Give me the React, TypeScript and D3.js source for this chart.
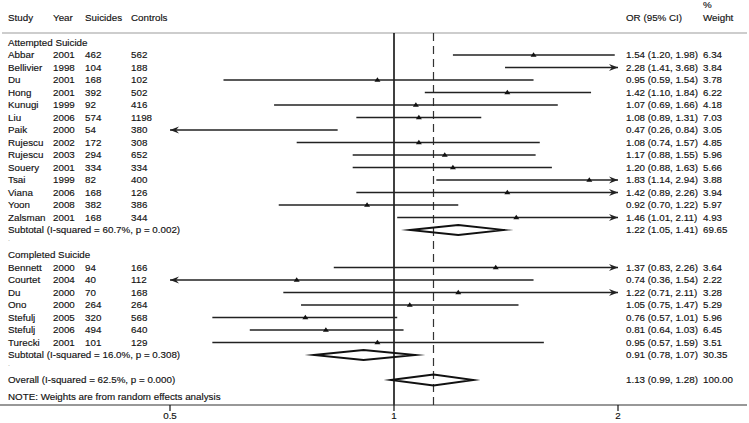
import React from "react";
import * as d3 from "d3";

// attempted suicide studies
const attStudy = ["Abbar", "Bellivier", "Du", "Hong", "Kunugi", "Liu", "Paik", "Rujescu", "Rujescu", "Souery", "Tsai", "Viana", "Yoon", "Zalsman"];
const attYear = [2001, 1998, 2001, 2001, 1999, 2006, 2000, 2002, 2003, 2001, 1999, 2006, 2008, 2001];
const attCases = [462, 104, 168, 392, 92, 574, 54, 172, 294, 334, 82, 168, 382, 168];
const attCtrl = [562, 188, 102, 502, 416, 1198, 380, 308, 652, 334, 400, 126, 386, 344];
const attOR = [1.54, 2.28, 0.95, 1.42, 1.07, 1.08, 0.47, 1.08, 1.17, 1.2, 1.83, 1.42, 0.92, 1.46];
const attLo = [1.2, 1.41, 0.59, 1.1, 0.69, 0.89, 0.26, 0.74, 0.88, 0.88, 1.14, 0.89, 0.7, 1.01];
const attHi = [1.98, 3.68, 1.54, 1.84, 1.66, 1.31, 0.84, 1.57, 1.55, 1.63, 2.94, 2.26, 1.22, 2.11];
const attW = ["6.34", "3.84", "3.78", "6.22", "4.18", "7.03", "3.05", "4.85", "5.96", "5.66", "3.88", "3.94", "5.97", "4.93"];

// completed suicide studies
const comStudy = ["Bennett", "Courtet", "Du", "Ono", "Stefulj", "Stefulj", "Turecki"];
const comYear = [2000, 2004, 2000, 2000, 2005, 2006, 2001];
const comCases = [94, 40, 70, 264, 320, 494, 101];
const comCtrl = [166, 112, 168, 264, 568, 640, 129];
const comOR = [1.37, 0.74, 1.22, 1.05, 0.76, 0.81, 0.95];
const comLo = [0.83, 0.36, 0.71, 0.75, 0.57, 0.64, 0.57];
const comHi = [2.26, 1.54, 2.11, 1.47, 1.01, 1.03, 1.59];
const comW = ["3.64", "2.22", "3.28", "5.29", "5.96", "6.45", "3.51"];

// pooled estimates
const poolLabel = ["Subtotal  (I-squared = 60.7%, p = 0.002)", "Subtotal  (I-squared = 16.0%, p = 0.308)", "Overall  (I-squared = 62.5%, p = 0.000)"];
const poolOR = [1.22, 0.91, 1.13];
const poolLo = [1.05, 0.78, 0.99];
const poolHi = [1.41, 1.07, 1.28];
const poolW = ["69.65", "30.35", "100.00"];

const ticks = [0.5, 1, 2];

const fmt = d3.format(".2f");
const ciText = (o: number, l: number, h: number) => `${fmt(o)} (${fmt(l)}, ${fmt(h)})`;

type Row =
  | { kind: "head"; i: number; text: string }
  | { kind: "study"; i: number; name: string; year: number; cases: number; ctrl: number; or: number; lo: number; hi: number; w: string }
  | { kind: "pool"; i: number; text: string; or: number; lo: number; hi: number; w: string; h: number }
  | { kind: "dot"; i: number };

const rows: Row[] = [];
rows.push({ kind: "head", i: -1, text: "Attempted Suicide" });
attStudy.forEach((s, k) =>
  rows.push({ kind: "study", i: k, name: s, year: attYear[k], cases: attCases[k], ctrl: attCtrl[k], or: attOR[k], lo: attLo[k], hi: attHi[k], w: attW[k] })
);
rows.push({ kind: "pool", i: 14, text: poolLabel[0], or: poolOR[0], lo: poolLo[0], hi: poolHi[0], w: poolW[0], h: 5 });
rows.push({ kind: "dot", i: 15 });
rows.push({ kind: "head", i: 16, text: "Completed Suicide" });
comStudy.forEach((s, k) =>
  rows.push({ kind: "study", i: 17 + k, name: s, year: comYear[k], cases: comCases[k], ctrl: comCtrl[k], or: comOR[k], lo: comLo[k], hi: comHi[k], w: comW[k] })
);
rows.push({ kind: "pool", i: 24, text: poolLabel[1], or: poolOR[1], lo: poolLo[1], hi: poolHi[1], w: poolW[1], h: 5 });
rows.push({ kind: "dot", i: 25 });
rows.push({ kind: "pool", i: 26, text: poolLabel[2], or: poolOR[2], lo: poolLo[2], hi: poolHi[2], w: poolW[2], h: 5.5 });

export default function App() {
  const width = 749;
  const height = 423;
  const x = d3.scaleLog().domain([0.5, 2]).range([170, 618]);
  const y = (i: number) => 55 + 12.5 * i;
  const topY = 33;
  const axisY = 405;
  const ink = "#111";
  const font = "'Liberation Sans', Arial, sans-serif";
  const fs = 9.8;

  const arrow = (tx: number, cy: number, dir: number) =>
    `M${tx},${cy} L${tx - dir * 9},${cy - 3.6} L${tx - dir * 6},${cy} L${tx - dir * 9},${cy + 3.6} Z`;

  return (
    <svg width={width} height={height} style={{ position: "absolute", left: 0, top: 0, background: "#fff" }} fontFamily={font} fontSize={fs}>
      <rect width={width} height={height} fill="#fff" />
      <g fill={ink} stroke={ink} strokeWidth={0.15}>
        {/* header */}
        <text x={8} y={20.5}>Study</text>
        <text x={53} y={20.5}>Year</text>
        <text x={85} y={20.5}>Suicides</text>
        <text x={131} y={20.5}>Controls</text>
        <text x={626} y={20.5}>OR (95% CI)</text>
        <text x={703} y={8}>%</text>
        <text x={703} y={20.5}>Weight</text>
      </g>
      <line x1={2} x2={747} y1={topY} y2={topY} stroke="#bdbdbd" strokeWidth={1.6} />

      {/* reference lines */}
      <line x1={x(1)} x2={x(1)} y1={topY} y2={axisY} stroke="#000" strokeWidth={1.5} />
      <line x1={x(poolOR[2])} x2={x(poolOR[2])} y1={topY} y2={axisY} stroke="#333" strokeWidth={1.2} strokeDasharray="8,5" />

      {rows.map((r, k) => {
        const cy = y(r.i);
        const txt = (tx: number, s: string | number) => (
          <text x={tx} y={cy} dy="0.35em" fill={ink} stroke={ink} strokeWidth={0.15}>{s}</text>
        );
        if (r.kind === "head") {
          return <g key={k}>{txt(8, r.text)}</g>;
        }
        if (r.kind === "dot") {
          return <text key={k} x={8} y={cy - 2} fill="#999" fontSize={7}>.</text>;
        }
        if (r.kind === "study") {
          const [d0, d1] = x.domain();
          const x1 = x(Math.max(r.lo, d0));
          const x2 = x(Math.min(r.hi, d1));
          const mx = x(r.or);
          const inside = r.or >= d0 && r.or <= d1;
          return (
            <g key={k}>
              {txt(8, r.name)}
              {txt(53, r.year)}
              {txt(85, r.cases)}
              {txt(131, r.ctrl)}
              <line x1={x1} x2={x2} y1={cy} y2={cy} stroke="#222" strokeWidth={1.4} />
              {r.lo < d0 && <path d={arrow(x1, cy, -1)} fill="#222" />}
              {r.hi > d1 && <path d={arrow(x2, cy, 1)} fill="#222" />}
              {inside && <path d={`M${mx - 3},${cy + 1.8} L${mx},${cy - 2.8} L${mx + 3},${cy + 1.8} Z`} fill="#111" />}
              {txt(626, ciText(r.or, r.lo, r.hi))}
              {txt(703, r.w)}
            </g>
          );
        }
        const pts = [
          [x(r.lo), cy],
          [x(r.or), cy - r.h],
          [x(r.hi), cy],
          [x(r.or), cy + r.h],
        ];
        return (
          <g key={k}>
            {txt(8, r.text)}
            <path d={d3.line()(pts as [number, number][]) + "Z"} fill="none" stroke="#111" strokeWidth={1.8} strokeLinejoin="miter" strokeMiterlimit={20} />
            {txt(626, ciText(r.or, r.lo, r.hi))}
            {txt(703, r.w)}
          </g>
        );
      })}

      <text x={8} y={397} dy="0.35em" fill={ink} stroke={ink} strokeWidth={0.15}>NOTE: Weights are from random effects analysis</text>

      {/* axis */}
      <line x1={0} x2={747} y1={axisY} y2={axisY} stroke="#333" strokeWidth={1.2} />
      {ticks.map((t) => (
        <g key={t} transform={`translate(${x(t)},${axisY})`}>
          <line y1={0} y2={6} stroke="#111" strokeWidth={1.2} />
          <text y={14} textAnchor="middle" fill={ink} stroke={ink} strokeWidth={0.15}>{t}</text>
        </g>
      ))}
    </svg>
  );
}
